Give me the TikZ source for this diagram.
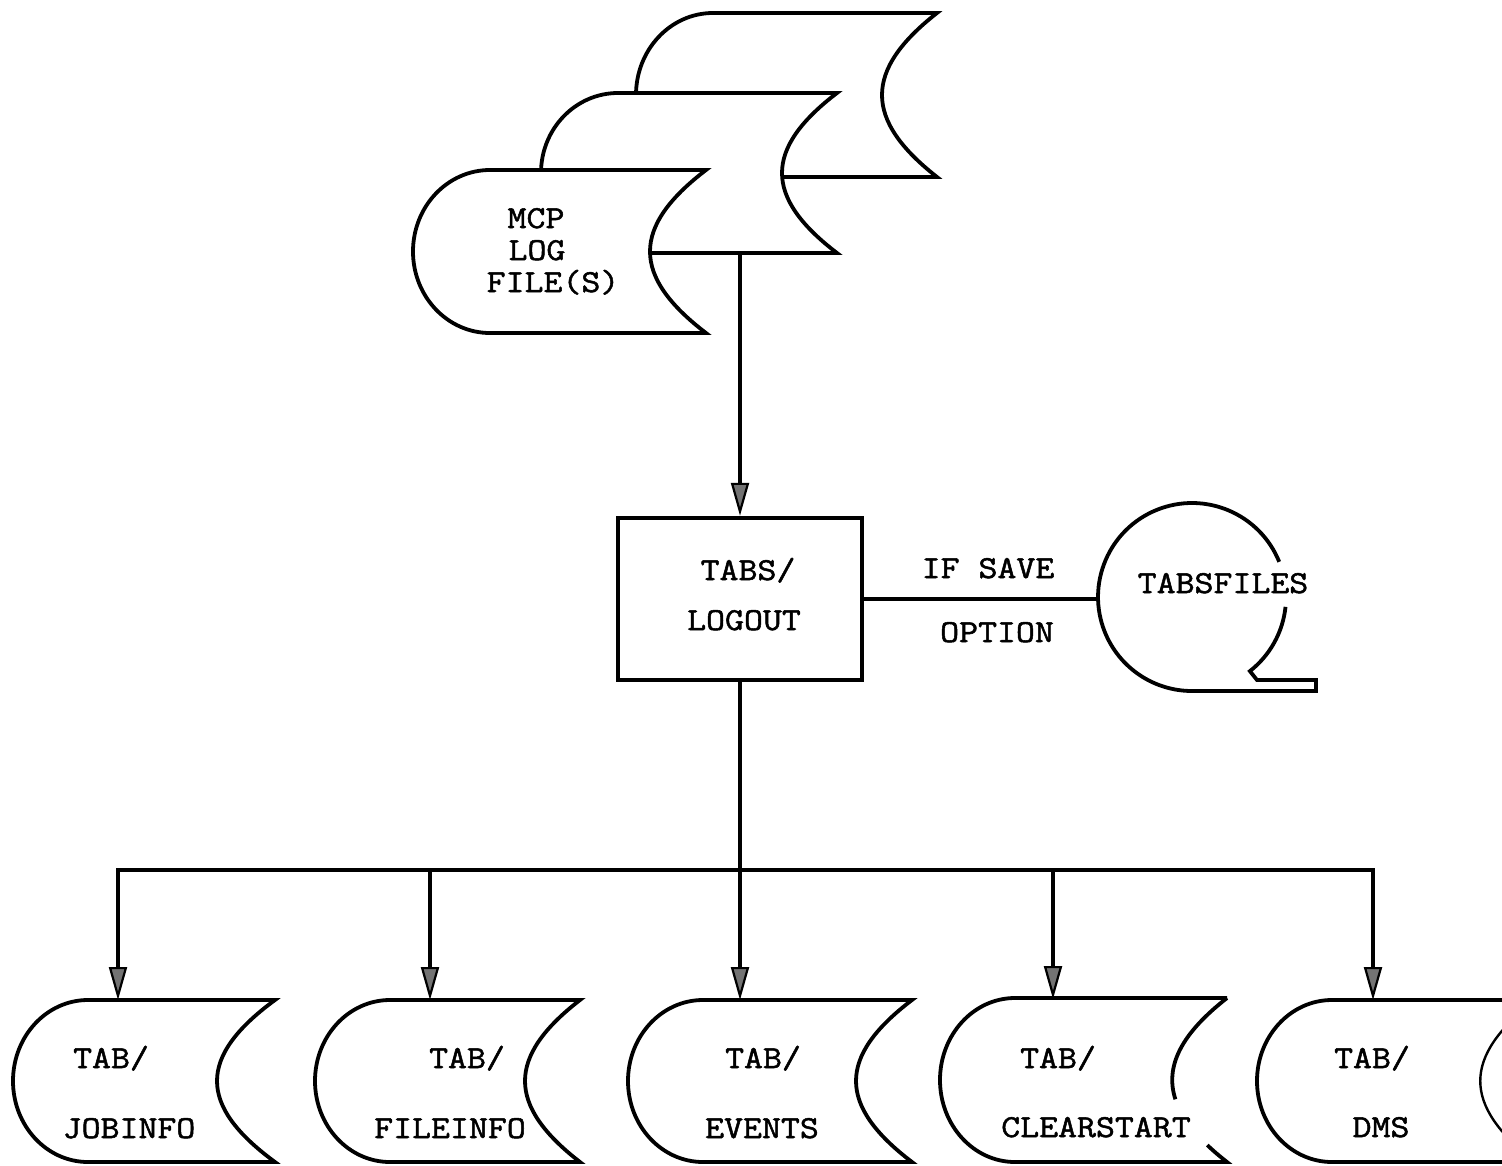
\documentclass[tikz,border=0pt]{standalone}
\usepackage{fontspec}
\newfontface\tw{Latin Modern Mono}[FakeStretch=1.15,FakeBold=1.6]
\usetikzlibrary{arrows.meta}
\tikzset{
  fl/.style={line width=3.8pt},
  arr/.style={line width=3.8pt, -{Triangle[width=18pt,length=33pt,fill=black!55,line width=2.2pt]}},
  lbl/.style={font=\tw\fontsize{32pt}{38pt}\selectfont, inner sep=0pt, anchor=base},
}
% #1 left, #2 top, #3 right, #4 bottom (page px, y down), #5 arc radius, #6 notch depth
\newcommand\tabfile[6]{%
  \pgfmathsetmacro\fhh{(#4-#2)/2}%
  \pgfmathsetmacro\fk{1.3333*#6}%
  \pgfmathsetmacro\fa{0.7*\fhh}%
  \draw[fl,fill=white] (#3,-#2) -- ({#1+#5},-#2)
    arc[start angle=90,end angle=270,x radius=#5,y radius=\fhh]
    -- (#3,-#4) .. controls ({#3-\fk},{-#4+\fa}) and ({#3-\fk},{-#2-\fa}) .. (#3,-#2) -- cycle;
}
\begin{document}
\begin{tikzpicture}[x=1pt,y=1pt]
\useasboundingbox (0,0) rectangle (1502,-1165);
\fill[white] (0,0) rectangle (1502,-1165);
\clip (0,0) rectangle (1502,-1165);

% ---- MCP log files stack
\tabfile{636}{13}{937}{177}{77}{55}
\tabfile{541}{93}{837}{253}{77}{55}
\tabfile{413}{170}{706}{333}{77}{56}
\node[lbl] (mcp1) at (536,-228) {MCP};
\node[lbl] (mcp2) at (537,-260) {LOG};
\node[lbl] (mcp3) at (553,-292) {FILE(S)};
\coordinate (mcpout) at (740,-253);

% ---- TABS/LOGOUT box
\node[draw, line width=4.5pt, minimum width=244pt, minimum height=162pt, inner sep=0pt] (box) at (740,-599) {};
\node[lbl] (tabs1) at (748,-580) {TABS/};
\node[lbl] (tabs2) at (744,-630) {LOGOUT};
\draw[arr] (mcpout) -- (box.north);

% ---- TABSFILES tape
\draw[fl] (1279.2,-561.8) arc[start angle=22,end angle=270,radius=94]
  -- (1316,-691) -- (1316,-680) -- (1257,-680) -- (1249.9,-671.1)
  arc[start angle=-52,end angle=-6,radius=94];
\coordinate (tapein) at (1098,-599);
\node[lbl] (tapetxt) at (1223,-593) {TABSFILES};
\draw[fl] (box.east) -- (tapein);
\node[lbl] (ifsave) at (988,-578) {IF SAVE};
\node[lbl] (option) at (997,-642) {OPTION};

% ---- distribution bus
\coordinate (bus) at (740,-870);
\coordinate (b1) at (118,-870);
\coordinate (b2) at (430,-870);
\coordinate (b3) at (740,-870);
\coordinate (b4) at (1053,-870);
\coordinate (b5) at (1373,-870);
\coordinate (ft1) at (118,-1000);
\coordinate (ft2) at (430,-1000);
\coordinate (ft3) at (740,-1000);
\coordinate (ft4) at (1053,-999);
\coordinate (ft5) at (1373,-1000);
\draw[fl] (box.south) -- (bus);
\draw[fl, line cap=rect] (b1) -- (b5);
\draw[arr] (b1) -- (ft1);
\draw[arr] (b2) -- (ft2);
\draw[arr] (b3) -- (ft3);
\draw[arr] (b4) -- (ft4);
\draw[arr] (b5) -- (ft5);

% ---- bottom files
\tabfile{13}{1000}{275}{1162}{75}{58}
\tabfile{315}{1000}{580}{1162}{75}{55}
\tabfile{628}{1000}{912}{1162}{75}{56}
% CLEARSTART (broken notch)
\draw[fl] (1227,-998) .. controls (1181.7,-1033.3) and (1164.5,-1066) .. (1175.4,-1099.3);
\draw[fl] (1207.3,-1145.1) .. controls (1213.1,-1150.7) and (1219.7,-1156.3) .. (1227,-1162)
  -- (1015,-1162) arc[start angle=270,end angle=90,x radius=75,y radius=82] -- (1227,-998);
% DMS (running off the page)
\draw[fl] (1540,-1000) -- (1332,-1000) arc[start angle=90,end angle=270,x radius=75,y radius=81] -- (1540,-1162);
\draw[line width=2.4pt] (1535,-1162) .. controls (1462,-1105) and (1462,-1057) .. (1535,-1000);

\node[lbl] (t1) at (111,-1068) {TAB/};
\node[lbl] (n1) at (129,-1138) {JOBINFO};
\node[lbl] (t2) at (467,-1068) {TAB/};
\node[lbl] (n2) at (450,-1138) {FILEINFO};
\node[lbl] (t3) at (763,-1068) {TAB/};
\node[lbl] (n3) at (762,-1138) {EVENTS};
\node[lbl] (t4) at (1058,-1068) {TAB/};
\node[lbl] (n4) at (1096,-1137) {CLEARSTART};
\node[lbl] (t5) at (1372,-1068) {TAB/};
\node[lbl] (n5) at (1381,-1137) {DMS};
\end{tikzpicture}
\end{document}
